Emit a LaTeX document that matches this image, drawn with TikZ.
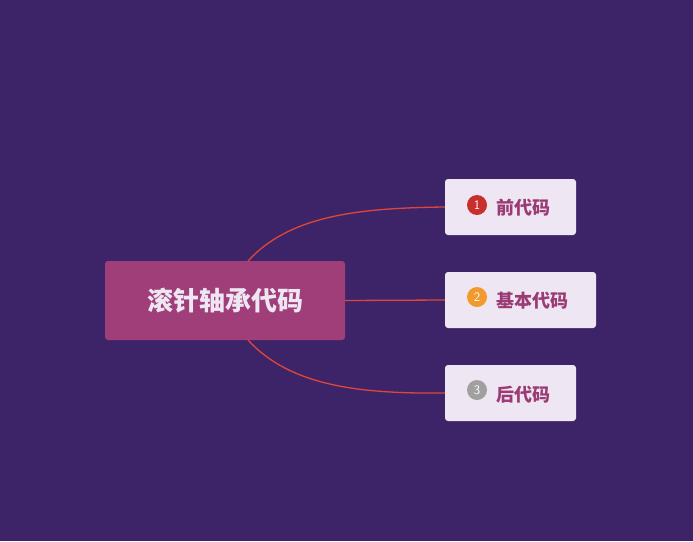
\documentclass[tikz,border=0pt]{standalone}
\usepackage{fontspec}
\newfontfamily\cjk{Noto Sans CJK SC}
\definecolor{bg}{HTML}{3D2468}
\definecolor{rootc}{HTML}{A03E7A}
\definecolor{leaf}{HTML}{EFE6F3}
\definecolor{leaft}{HTML}{9B3B73}
\definecolor{edge}{HTML}{E0453A}
\definecolor{n1}{HTML}{C8302E}
\definecolor{n2}{HTML}{F39A2E}
\definecolor{n3}{HTML}{A0A0A0}
\begin{document}
\begin{tikzpicture}[x=1pt,y=-1pt,
  rootbox/.style={fill=rootc,rounded corners=3pt,minimum width=240pt,minimum height=79pt,text=leaf,font=\cjk\bfseries\fontsize{26}{30}\selectfont,inner sep=0},
  leafbox/.style={fill=leaf,rounded corners=3pt,minimum height=56pt,inner sep=0},
  leaftext/.style={text=leaft,font=\cjk\bfseries\fontsize{18}{22}\selectfont,anchor=west,inner sep=0},
  numc/.style={circle,minimum size=20pt,inner sep=0,text=white,font=\sffamily\fontsize{13}{14}\selectfont},
  conn/.style={draw=edge,line width=1.3pt}]
\fill[bg] (0,0) rectangle (693,541);
\useasboundingbox (0,0) rectangle (693,541);
\node[rootbox] (root) at (225,300.5) {滚针轴承代码};
\node[leafbox,minimum width=131pt] (a) at (510.5,207) {};
\node[leafbox,minimum width=151pt] (b) at (520.5,300) {};
\node[leafbox,minimum width=131pt] (c) at (510.5,393) {};
\node[numc,fill=n1] (na) at (477,205) {1};
\node[numc,fill=n2] (nb) at (477,297) {2};
\node[numc,fill=n3] (nc) at (477,390) {3};
\node[leaftext] (ta) at (496,208) {前代码};
\node[leaftext] (tb) at (496,301) {基本代码};
\node[leaftext] (tc) at (496,395) {后代码};
\coordinate (r1) at (248,261);
\coordinate (r3) at (248,340);
\draw[conn] (r1) .. controls (290,215) and (360,208) .. (a.west);
\draw[conn] (root.east) -- (b.west);
\draw[conn] (r3) .. controls (290,386) and (360,394) .. (c.west);
\end{tikzpicture}
\end{document}
